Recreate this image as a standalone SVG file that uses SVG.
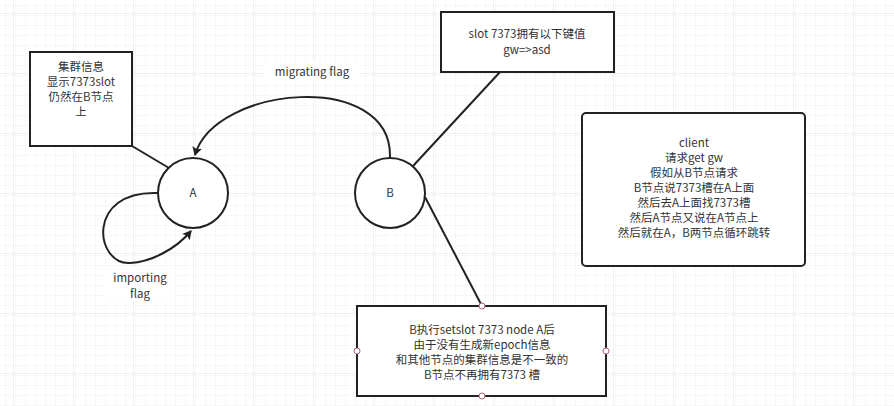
<svg xmlns="http://www.w3.org/2000/svg" width="894" height="406" viewBox="0 0 894 406">
<defs>
<pattern id="g" width="10" height="10" patternUnits="userSpaceOnUse" x="3" y="3"><path d="M10 0V10H0" fill="none" stroke="#eeeeee" stroke-width="1"/></pattern>
<pattern id="G" width="60" height="60" patternUnits="userSpaceOnUse" x="13" y="13"><rect width="60" height="60" fill="url(#g)"/><path d="M0 0V60M0 0H60" fill="none" stroke="#e2e2e2" stroke-width="1"/></pattern>
<marker id="ar" markerWidth="10" markerHeight="10" refX="8" refY="5" orient="auto" markerUnits="userSpaceOnUse"><path d="M0 0L9 5L0 10L2 5Z" fill="#222"/></marker>
</defs>
<style>
text{font-family:"Microsoft YaHei","Noto Sans CJK SC",sans-serif;font-size:11.5px;fill:#333;text-anchor:middle}
.b{fill:#fff;stroke:#222;stroke-width:2}
.c{fill:none;stroke:#222;stroke-width:2}
.h{fill:#fff;stroke:#b06070;stroke-width:1}
</style>
<rect width="894" height="406" fill="#fff"/>
<rect width="894" height="406" fill="url(#G)"/>
<g id="connectors">
<path class="c" d="M132 146L169 168"/>
<path class="c" d="M413 166L500 72"/>
<path class="c" d="M425 197L482 306"/>
<path class="c" d="M390 157C392 70 215 85 195 155" marker-end="url(#ar)"/>
<path class="c" d="M158 193C85 190 95 265 130 263C150 262 175 250 191 231" marker-end="url(#ar)"/>
<rect x="264" y="62" width="96" height="18" fill="#fff"/>
<text x="312" y="76">migrating flag</text>
<rect x="105" y="267" width="70" height="34" fill="#fff"/>
<text x="140" y="282">importing</text>
<text x="140" y="298">flag</text>
</g>
<g id="info"><rect class="b" x="30" y="52" width="102" height="94"/>
<text x="81" y="71">集群信息</text><text x="81" y="86">显示7373slot</text><text x="81" y="101">仍然在B节点</text><text x="81" y="116">上</text></g>
<g id="A"><circle class="b" cx="193" cy="193" r="35"/><text x="193" y="197">A</text></g>
<g id="B"><circle class="b" cx="390" cy="193" r="35"/><text x="390" y="197">B</text></g>
<g id="slot"><rect class="b" x="441" y="12" width="173" height="60"/>
<text x="527" y="38">slot 7373拥有以下键值</text><text x="527" y="54">gw=&gt;asd</text></g>
<g id="client"><rect class="b" x="582" y="113" width="223" height="153" rx="4"/>
<text x="694" y="147">client</text><text x="694" y="162">请求get gw</text><text x="694" y="177">假如从B节点请求</text><text x="694" y="192">B节点说7373槽在A上面</text><text x="694" y="207">然后去A上面找7373槽</text><text x="694" y="222">然后A节点又说在A节点上</text><text x="694" y="237">然后就在A，B两节点循环跳转</text></g>
<g id="note"><rect class="b" x="357" y="306" width="249" height="90"/>
<text x="482" y="334">B执行setslot 7373 node A后</text><text x="482" y="349">由于没有生成新epoch信息</text><text x="482" y="364">和其他节点的集群信息是不一致的</text><text x="482" y="379">B节点不再拥有7373 槽</text>
<circle class="h" cx="482" cy="306" r="3"/><circle class="h" cx="357" cy="351" r="3"/><circle class="h" cx="606" cy="351" r="3"/><circle class="h" cx="482" cy="396" r="3"/></g>
</svg>
